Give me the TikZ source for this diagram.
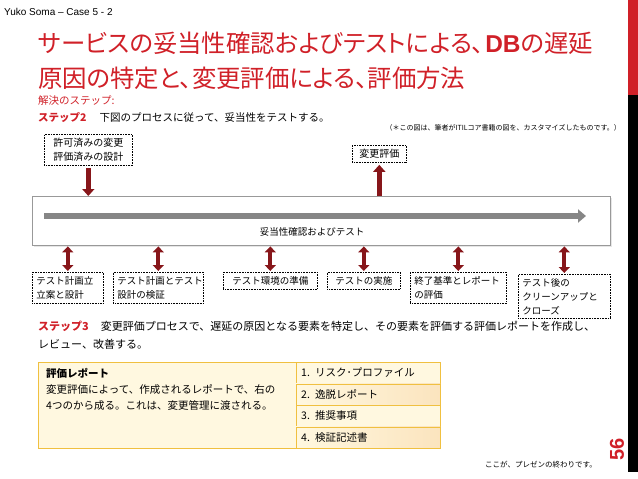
\documentclass[tikz,border=0pt]{standalone}
\usepackage{fontspec}
\setmainfont{Noto Sans CJK JP}
\newfontfamily\latinfont{Liberation Sans}
\newfontfamily\titlefont{Noto Sans CJK JP}[RawFeature=+palt]
\usetikzlibrary{arrows.meta,shadows}
\definecolor{titlered}{RGB}{208,32,40}
\definecolor{arrowred}{RGB}{135,22,26}
\definecolor{tablegold}{RGB}{240,192,64}
\definecolor{celllight}{RGB}{255,248,224}
\definecolor{celldark}{RGB}{251,228,190}
\tikzset{
  dotbox/.style={draw, densely dotted, line width=0.6pt, inner xsep=4pt, inner ysep=4pt,
    anchor=north west, align=left, text width=#1, font=\fontsize{9.5}{14}\selectfont},
  bigarrow/.style={arrowred, line width=4.5pt, -{Triangle[width=12pt,length=7pt]}},
  dblarrow/.style={arrowred, line width=4pt, {Triangle[width=11pt,length=6pt]}-{Triangle[width=11pt,length=6pt]}},
  flowarrow/.style={gray!95, line width=6.5pt, -{Triangle[width=13pt,length=8pt]}},
  cell/.style={draw=tablegold, anchor=north west, minimum height=21.5pt, inner xsep=5pt,
    text width=134pt, align=left, font=\fontsize{10.5}{12}\selectfont}
}
\begin{document}
\begin{tikzpicture}[x=1pt, y=-1pt, every node/.style={inner sep=0pt, font=\fontsize{10}{14}\selectfont}]
  \useasboundingbox (0,0) rectangle (638,479);
  % side bar
  \fill[titlered] (628,0) rectangle (638,95);
  \fill[black] (628,95) rectangle (638,472);
  \node[rotate=90, text=titlered, font=\latinfont\bfseries\fontsize{20}{20}\selectfont] (pagenum) at (617,449) {56};
  % header and title
  \node[anchor=west, font=\latinfont\fontsize{10}{12}\selectfont] (author) at (4,12) {Yuko Soma – Case 5 - 2};
  \node[anchor=west, text=titlered, font=\titlefont\fontsize{24.4}{28}\selectfont] (title1) at (38,43)
    {サービスの妥当性確認およびテストによる、\hspace{1pt}{\latinfont\bfseries DB}の遅延};
  \node[anchor=west, text=titlered, font=\titlefont\fontsize{24.4}{28}\selectfont] (title2) at (38,78)
    {原因の特定と、変更評価による、評価方法};
  \node[anchor=west, text=titlered, font=\fontsize{10.5}{12}\selectfont] (solve) at (38,101) {解決のステップ:};
  \node[anchor=west, font=\fontsize{10.5}{12}\selectfont] (step2) at (38,117)
    {\textcolor{titlered}{\bfseries ステップ2}\hspace{13pt}下図のプロセスに従って、妥当性をテストする。};
  \node[anchor=east, font=\fontsize{7}{8}\selectfont] (note) at (621,128)
    {（＊この図は、筆者がITILコア書籍の図を、カスタマイズしたものです。）};
  % process
  \node[draw, densely dotted, line width=0.6pt, inner xsep=9pt, inner ysep=4pt, anchor=north west, align=left] (permit) at (44,134)
    {許可済みの変更\\評価済みの設計};
  \node[draw, densely dotted, line width=0.6pt, inner xsep=7pt, inner ysep=4pt, anchor=north west] (evalc) at (352,145) {変更評価};
  \node[draw=gray!80, fill=white, drop shadow={opacity=0.2, shadow xshift=1.5pt, shadow yshift=-1.5pt},
    minimum width=578pt, minimum height=49pt, anchor=north west] (proc) at (32,196) {};
  \coordinate (fs) at (44,216);
  \coordinate (fe) at (586,216);
  \draw[flowarrow] (fs) -- (fe);
  \node[font=\fontsize{9.5}{12}\selectfont] (proclabel) at (312,232) {妥当性確認およびテスト};
  \draw[bigarrow, shorten <=2pt] (permit.south) -- (permit.south |- proc.north);
  \draw[bigarrow, shorten >=2pt] (evalc.south |- proc.north) -- (evalc.south);
  % activities
  \node[dotbox=63pt] (plan) at (32,272) {テスト計画立\\立案と設計};
  \node[dotbox=82pt] (review) at (113,272) {テスト計画とテスト\\設計の検証};
  \node[dotbox=86pt, align=center] (env) at (223,272) {テスト環境の準備};
  \node[dotbox=65pt, align=center] (run) at (327,272) {テストの実施};
  \node[dotbox=88pt] (exit) at (410,272) {終了基準とレポート\\の評価};
  \node[dotbox=84pt] (close) at (518,274) {テスト後の\\クリーンアップと\\クローズ};
  \foreach \b in {plan,review,env,run,exit,close}
    \draw[dblarrow, shorten >=1pt, shorten <=1pt] (\b.north) -- (\b.north |- proc.south);
  % step 3
  \node[anchor=north west, align=left, font=\fontsize{11}{18}\selectfont] (step3) at (38,321)
    {\textcolor{titlered}{\bfseries ステップ3}\hspace{12pt}変更評価プロセスで、遅延の原因となる要素を特定し、その要素を評価する評価レポートを作成し、\\レビュー、改善する。};
  % report table
  \node[draw=tablegold, fill=celllight, minimum width=258pt, minimum height=86pt, anchor=north west] (report) at (38,362) {};
  \node[anchor=north west, align=left, font=\fontsize{10.5}{16}\selectfont] (reporttext) at (46,368)
    {\textbf{評価レポート}\\変更評価によって、作成されるレポートで、右の\\4つのから成る。これは、変更管理に渡される。};
  \foreach \t/\c [count=\i] in {1. リスク･プロファイル/celllight, 2. 逸脱レポート/celldark,
      3. 推奨事項/celllight, 4. 検証記述書/celldark}
    \node[cell, left color=celllight, right color=\c] (item\i) at (296,{362+21.5*(\i-1)}) {\t};
  \node[anchor=east, font=\fontsize{7.5}{9}\selectfont] (endnote) at (597,465) {ここが、プレゼンの終わりです。};
\end{tikzpicture}
\end{document}
